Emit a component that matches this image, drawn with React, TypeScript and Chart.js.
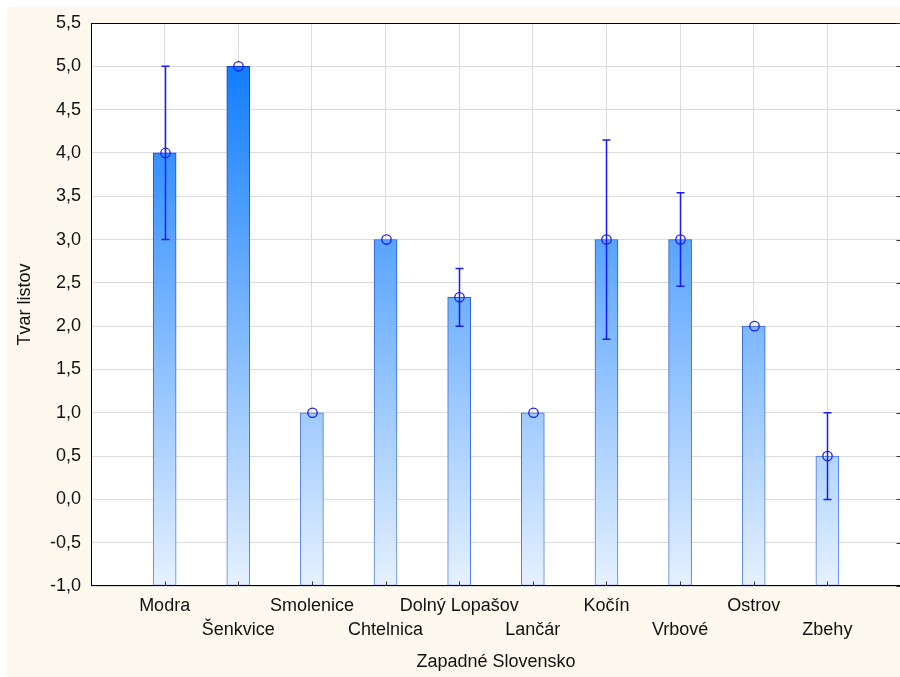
import React, { useEffect, useRef } from 'react';
import { Chart, registerables } from 'chart.js';

Chart.register(...registerables);

const categories = ['Modra', 'Šenkvice', 'Smolenice', 'Chtelnica', 'Dolný Lopašov', 'Lančár', 'Kočín', 'Vrbové', 'Ostrov', 'Zbehy'];
const means = [4.0, 5.0, 1.0, 3.0, 2.333, 1.0, 3.0, 3.0, 2.0, 0.5];
const lowerBounds: (number | null)[] = [3.0, null, null, null, 2.0, null, 1.85, 2.46, null, 0.0];
const upperBounds: (number | null)[] = [5.0, null, null, null, 2.667, null, 4.15, 3.54, null, 1.0];
const yMin = -1.0;
const yMax = 5.5;
const yStep = 0.5;
const xTitle = 'Zapadné Slovensko';
const yTitle = 'Tvar listov';

export default function App() {
  const ref = useRef<HTMLCanvasElement>(null);

  useEffect(() => {
    const canvas = ref.current!;
    const labels = ['', ...categories, ''];
    const data = [null, ...means, null];
    const gridColor = '#dcdcdc';
    const errColor = '#1a1aff';
    const font = { family: 'Arial, "Liberation Sans", sans-serif', size: 18 };

    let bgGrad: CanvasGradient | null = null;
    let bdGrad: CanvasGradient | null = null;
    let cacheKey = '';
    const makeGrads = (chart: any) => {
      const a = chart.chartArea;
      if (!a) return;
      const key = a.top + ':' + a.bottom;
      if (key === cacheKey && bgGrad) return;
      cacheKey = key;
      const g = chart.ctx.createLinearGradient(0, a.top, 0, a.bottom);
      g.addColorStop(0, '#0074ff');
      g.addColorStop(1, '#e6f1ff');
      bgGrad = g;
      const b = chart.ctx.createLinearGradient(0, a.top, 0, a.bottom);
      b.addColorStop(0, '#0b3cc0');
      b.addColorStop(1, '#5583e0');
      bdGrad = b;
    };

    const plugin = {
      id: 'custom',
      beforeDraw(chart: any) {
        const { ctx, chartArea: a } = chart;
        ctx.save();
        ctx.fillStyle = '#ffffff';
        ctx.fillRect(a.left, a.top, a.right - a.left, a.bottom - a.top);
        ctx.restore();
      },
      afterDatasetsDraw(chart: any) {
        const { ctx } = chart;
        const xs = chart.scales.x;
        const ys = chart.scales.y;
        ctx.save();
        ctx.strokeStyle = errColor;
        means.forEach((m, i) => {
          const px = Math.round(xs.getPixelForValue(i + 1)) + 0.5;
          const lo = lowerBounds[i];
          const hi = upperBounds[i];
          if (lo !== null && hi !== null) {
            const yl = ys.getPixelForValue(lo);
            const yh = ys.getPixelForValue(hi);
            ctx.lineWidth = 1.5;
            ctx.beginPath();
            ctx.moveTo(px, yl);
            ctx.lineTo(px, yh);
            ctx.moveTo(px - 4, yl);
            ctx.lineTo(px + 4, yl);
            ctx.moveTo(px - 4, yh);
            ctx.lineTo(px + 4, yh);
            ctx.stroke();
          }
          const pm = ys.getPixelForValue(m);
          ctx.lineWidth = 1.3;
          ctx.beginPath();
          ctx.arc(px, pm, 4.7, 0, Math.PI * 2);
          ctx.stroke();
        });
        ctx.restore();
      },
      afterDraw(chart: any) {
        const { ctx, chartArea: a } = chart;
        const xs = chart.scales.x;
        const ys = chart.scales.y;
        ctx.save();
        ctx.strokeStyle = '#000000';
        ctx.lineWidth = 1;
        const l = Math.round(a.left) + 0.5;
        const r = Math.round(a.right) - 0.5;
        const t = Math.round(a.top) + 0.5;
        const b = Math.round(a.bottom) - 0.5;
        ctx.strokeRect(l, t, r - l, b - t);
        ctx.strokeStyle = '#333333';
        ctx.beginPath();
        for (let i = 1; i <= categories.length; i++) {
          const px = Math.round(xs.getPixelForValue(i)) + 0.5;
          ctx.moveTo(px, b);
          ctx.lineTo(px, b - 4);
        }
        for (let v = yMin; v <= yMax + 1e-9; v += yStep) {
          const py = Math.round(ys.getPixelForValue(v)) + 0.5;
          ctx.moveTo(r, py);
          ctx.lineTo(r - 4, py);
        }
        ctx.stroke();
        ctx.restore();
      },
    };

    const chart = new Chart(canvas, {
      type: 'bar',
      data: {
        labels,
        datasets: [
          {
            data: data as any,
            base: yMin,
            barThickness: 23,
            borderWidth: 1,
            borderSkipped: false,
            backgroundColor: (c: any) => {
              makeGrads(c.chart);
              return bgGrad || '#4aa0ff';
            },
            borderColor: (c: any) => {
              makeGrads(c.chart);
              return bdGrad || '#1f4fd0';
            },
          } as any,
        ],
      },
      options: {
        animation: false,
        responsive: true,
        maintainAspectRatio: false,
        layout: { padding: { top: 16, right: 2, left: 0, bottom: 0 } },
        plugins: { legend: { display: false }, tooltip: { enabled: false } },
        scales: {
          x: {
            type: 'category',
            offset: false,
            grid: { color: gridColor, offset: false, drawTicks: false },
            border: { display: false },
            ticks: {
              autoSkip: false,
              maxRotation: 0,
              minRotation: 0,
              padding: 8,
              color: '#111111',
              font: { ...font, lineHeight: 1.333 },
              callback: (_v: any, idx: number) => {
                const lab = labels[idx];
                if (!lab) return '';
                return idx % 2 === 1 ? lab : ['', lab];
              },
            },
            title: {
              display: true,
              text: xTitle,
              color: '#111111',
              font,
              padding: { top: 0, bottom: 4 },
            },
            afterFit: (s: any) => {
              s.height = 91;
              s.paddingLeft = 0;
              s.paddingRight = 0;
            },
          },
          y: {
            min: yMin,
            max: yMax,
            grid: { color: gridColor, drawTicks: false },
            border: { display: false },
            ticks: {
              stepSize: yStep,
              padding: 10,
              color: '#111111',
              font,
              callback: (v: any) => Number(v).toFixed(1).replace('.', ','),
            },
            title: {
              display: true,
              text: yTitle,
              color: '#111111',
              font,
              padding: { top: 7, bottom: 0 },
            },
            afterFit: (s: any) => {
              s.width = 84;
              s.paddingTop = 0;
              s.paddingBottom = 0;
            },
          },
        },
      },
      plugins: [plugin],
    });

    return () => chart.destroy();
  }, []);

  return (
    <div
      style={{
        position: 'fixed',
        left: 7,
        top: 7,
        width: 896,
        height: 670,
        background: '#fdf9ee',
      }}
    >
      <canvas ref={ref} />
    </div>
  );
}
